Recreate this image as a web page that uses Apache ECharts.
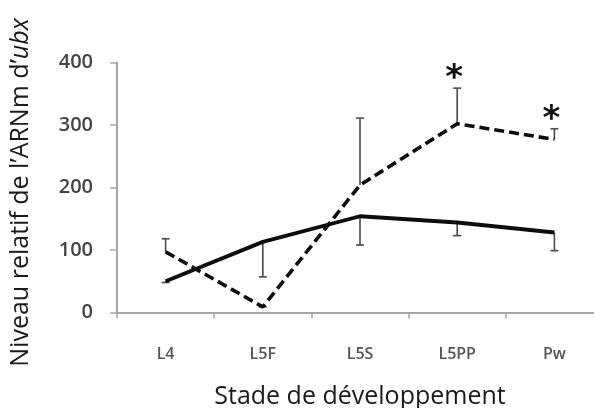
<!DOCTYPE html>
<html>
<head>
<meta charset="utf-8">
<script src="https://cdn.jsdelivr.net/npm/echarts@6/dist/echarts.min.js"></script>
<style>
  html, body { margin: 0; padding: 0; background: #fff; overflow: hidden; }
  /* the x axis runs a little past the right edge of the frame, which clips it */
  #wrap { position: relative; width: 594px; height: 408px; overflow: hidden; }
  #chart { position: absolute; left: 0; top: 0; width: 603px; height: 408px; }
</style>
</head>
<body>
<div id="wrap"><div id="chart"></div></div>
<script>
// Developmental stages
const stages = ['L4', 'L5F', 'L5S', 'L5PP', 'Pw'];

// Relative ubx mRNA level, solid curve, with its error (drawn downward)
const solidValues = [50, 113, 154, 144, 128];
const solidErrors = [2, 56, 46, 21, 29];

// Relative ubx mRNA level, dashed curve, with its error (drawn upward)
const dashedValues = [97, 9, 204, 302, 277];
const dashedErrors = [21, 0, 107, 57, 17];

// Significance marks above the dashed curve
const significance = ['', '', '', '*', '*'];

// Y axis ticks
const yTicks = [0, 100, 200, 300, 400];

const FONT = '"Open Sans", "DejaVu Sans", sans-serif';

// One error bar per category: vertical stem plus a horizontal cap at the far end
function errorBarRenderer(values, errors, direction, marks) {
  return function (params, api) {
    const i = params.dataIndex;
    const v = values[i];
    const end = v + direction * errors[i];
    const p0 = api.coord([i, v]);
    const p1 = api.coord([i, end]);
    const cap = 4;
    const style = { stroke: '#4a4a4a', lineWidth: 1.6 };
    const children = [
      { type: 'line', shape: { x1: p0[0], y1: p0[1], x2: p1[0], y2: p1[1] }, style },
      { type: 'line', shape: { x1: p1[0] - cap, y1: p1[1], x2: p1[0] + cap, y2: p1[1] }, style }
    ];
    if (marks && marks[i]) {
      children.push({
        type: 'text',
        style: {
          text: marks[i],
          x: p1[0] - 3,
          y: p1[1] + 8,
          align: 'center',
          verticalAlign: 'bottom',
          fill: '#111',
          font: 'bold 34px "DejaVu Sans", sans-serif'
        }
      });
    }
    return { type: 'group', children };
  };
}

const chart = echarts.init(document.getElementById('chart'), null, { renderer: 'canvas' });

chart.setOption({
  animation: false,
  backgroundColor: '#fff',
  grid: {
    left: 117, right: 0, top: 62.5, bottom: 95.5,
    containLabel: false,
    outerBoundsMode: 'none'
  },
  xAxis: {
    type: 'category',
    data: stages,
    boundaryGap: true,
    name: 'Stade de développement',
    nameLocation: 'middle',
    nameGap: 72,
    nameTextStyle: { fontFamily: FONT, fontSize: 25, color: '#1a1a1a' },
    axisLine: { lineStyle: { color: '#a6a6a6', width: 2 } },
    axisTick: { show: true, alignWithLabel: false, length: 6, lineStyle: { color: '#a6a6a6', width: 1.5 } },
    axisLabel: { fontFamily: FONT, fontSize: 16, fontWeight: 600, color: '#555', margin: 34 }
  },
  yAxis: {
    type: 'value',
    min: yTicks[0],
    max: yTicks[yTicks.length - 1],
    interval: yTicks[1] - yTicks[0],
    name: '{n|Niveau relatif de l’ARNm d’}{i|ubx}',
    nameLocation: 'middle',
    nameRotate: 90,
    nameGap: 84,
    nameTextStyle: {
      padding: [0, 10, 0, 0],
      rich: {
        n: { fontFamily: FONT, fontSize: 25, color: '#1a1a1a' },
        i: { fontFamily: FONT, fontSize: 25, color: '#1a1a1a', fontStyle: 'italic' }
      }
    },
    splitLine: { show: false },
    axisLine: { show: true, lineStyle: { color: '#a6a6a6', width: 2 } },
    axisTick: { show: true, length: 7, lineStyle: { color: '#a6a6a6', width: 1.5 } },
    axisLabel: { fontFamily: FONT, fontSize: 20, fontWeight: 600, color: '#444', margin: 24 }
  },
  series: [
    {
      type: 'custom',
      renderItem: errorBarRenderer(solidValues, solidErrors, -1, null),
      data: stages.map((s, i) => [i, solidValues[i]]),
      z: 1
    },
    {
      type: 'custom',
      renderItem: errorBarRenderer(dashedValues, dashedErrors, 1, significance),
      data: stages.map((s, i) => [i, dashedValues[i]]),
      z: 1
    },
    {
      type: 'line',
      data: solidValues,
      symbol: 'none',
      lineStyle: { color: '#0d0d0d', width: 3.8 },
      z: 3
    },
    {
      type: 'line',
      data: dashedValues,
      symbol: 'none',
      lineStyle: { color: '#0d0d0d', width: 3.6, type: [10, 5] },
      z: 3
    }
  ]
});
</script>
</body>
</html>
